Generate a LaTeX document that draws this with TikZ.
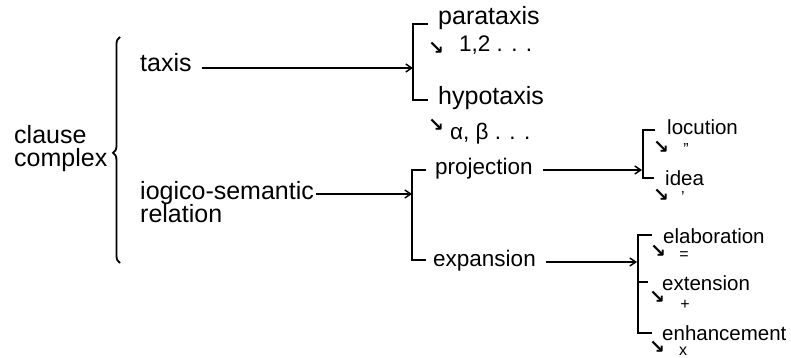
\documentclass[tikz,border=0pt]{standalone}
\usepackage{fontspec}
\setmainfont{Liberation Sans}
\newfontfamily\symfont{DejaVu Sans}
\usetikzlibrary{arrows.meta,decorations.pathreplacing}

\begin{document}
\begin{tikzpicture}[x=1pt,y=-1pt,
  big/.style={anchor=base west, inner sep=0pt, font=\fontsize{25}{25}\selectfont},
  mid/.style={anchor=base west, inner sep=0pt, font=\fontsize{22.5}{22.5}\selectfont},
  sml/.style={anchor=base west, inner sep=0pt, font=\fontsize{20.5}{20.5}\selectfont},
  ptr/.style={inner sep=0pt, font=\symfont\bfseries\fontsize{19}{19}\selectfont},
  sym/.style={anchor=base, inner sep=0pt, font=\fontsize{16}{16}\selectfont},
  conn/.style={line width=1.4pt, -{Straight Barb[length=6pt,width=8pt]}, shorten <=10pt},
  brk/.style={line width=1.8pt},
]
\useasboundingbox (0,0) rectangle (791,358);

% root
\node[big] (clause)  at (14,143) {clause};
\node[big] (complex) at (14,166) {complex};
\draw[line width=1.8pt, decorate, decoration={brace, amplitude=7pt, aspect=0.487}]
  (120,263) -- (120,37);

% first level
\node[big] (taxis) at (140,72) {taxis};
\node[big] (logico)   at (140,199) {iogico-semantic};
\node[big] (relation) at (140,222) {relation};

% taxis bracket
\coordinate (ta) at (413,24);
\coordinate (tb) at (413,100);
\coordinate (tin) at (413,68);
\draw[brk] ([xshift=15]ta) -- (ta) -- (tb) -- ([xshift=15]tb);
\draw[conn] (tin -| taxis.east) -- (tin);

\node[big] (para) at (438,25) {parataxis};
\node[ptr] (pp1) at (436,48) {↘};
\node[mid] (nums) at (459,52) {1,2 . . .};
\node[big] (hypo) at (438,105) {hypotaxis};
\node[ptr] (pp2) at (436,125) {↘};
\node[mid] (greek) at (450,140) {α, β . . .};

% logico-semantic bracket
\coordinate (la) at (412,170);
\coordinate (lb) at (412,260);
\coordinate (lin) at (412,194);
\draw[brk] ([xshift=14]la) -- (la) -- (lb) -- ([xshift=14]lb);
\draw[conn, shorten <=2pt] (lin -| logico.east) -- (lin);

\node[mid] (proj) at (435,175) {projection};
\node[mid] (expa) at (433,266) {expansion};

% projection bracket
\coordinate (pa) at (643,130);
\coordinate (pb) at (643,178);
\coordinate (pin) at (642,170);
\draw[brk] ([xshift=12]pa) -- (pa) -- (pb) -- ([xshift=11]pb);
\draw[conn] (pin -| proj.east) -- (pin);

\node[sml] (locu) at (667,135) {locution};
\node[ptr] (pp3) at (661,147) {↘};
\node[sym] (q1) at (686,154) {"};
\node[sml] (idea) at (665,185) {idea};
\node[ptr] (pp4) at (661,195) {↘};
\node[sym] (q2) at (683,202) {'};

% expansion bracket
\coordinate (ea) at (638,235);
\coordinate (em) at (638,282);
\coordinate (eb) at (638,333);
\coordinate (ein) at (637,262);
\draw[brk] ([xshift=14]ea) -- (ea) -- (eb) -- ([xshift=14]eb);
\draw[brk] (em) -- ([xshift=10]em);
\draw[conn] (ein -| expa.east) -- (ein);

\node[sml] (elab) at (663,243) {elaboration};
\node[ptr] (pp5) at (658,251) {↘};
\node[sym] (s1) at (684,259) {=};
\node[sml] (exte) at (662,290) {extension};
\node[ptr] (pp6) at (657,297) {↘};
\node[sym] (s2) at (685,309) {+};
\node[sml] (enha) at (662,340) {enhancement};
\node[ptr] (pp7) at (657,347) {↘};
\node[sym] (s3) at (683,355) {x};
\end{tikzpicture}
\end{document}
